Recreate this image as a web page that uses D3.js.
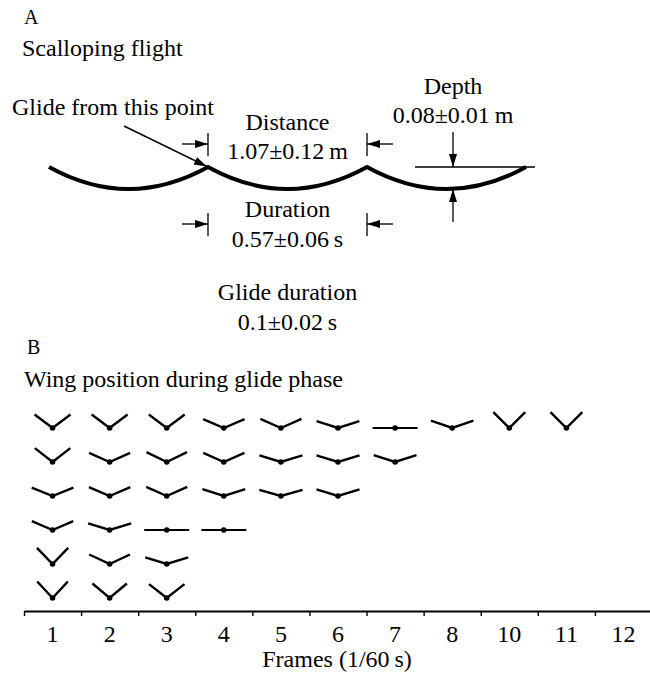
<!DOCTYPE html>
<html><head><meta charset="utf-8">
<script src="https://cdn.jsdelivr.net/npm/d3@7"></script>
<style>
body{margin:0;background:#fff}
text{font-family:"Liberation Serif","Times New Roman",serif;fill:#000}
</style>
</head><body>
<svg id="c" width="650" height="678"></svg>
<script>
// ---------- data ----------
const frameLabels = ["1","2","3","4","5","6","7","8","10","11","12"];
// wing elevation angle (degrees above horizontal), rows top→bottom, per frame
const wingAngles = [
  [37, 38, 22, 23, 46, 47],
  [37, 24, 23, 17, 25, 40],
  [37, 26, 24, 0, 17, 38],
  [23, 24, 18, 0],
  [24, 17, 16],
  [18, 17, 17],
  [0, 18],
  [19],
  [45],
  [45],
  []
];
const scallopDistance = 1.07, scallopDistanceSD = 0.12;   // m
const scallopDepth = 0.08, scallopDepthSD = 0.01;         // m
const scallopDuration = 0.57, scallopDurationSD = 0.06;   // s
const glideDuration = 0.1, glideDurationSD = 0.02;        // s
const scallopCount = 3;

// ---------- setup ----------
const svg = d3.select("#c");
const FS = 24;
const defs = svg.append("defs");
defs.append("marker").attr("id","ah").attr("markerUnits","userSpaceOnUse")
  .attr("markerWidth",14).attr("markerHeight",10).attr("refX",13).attr("refY",4)
  .attr("orient","auto")
  .append("path").attr("d","M0,0 L13,4 L0,8 Z").attr("fill","#000");

function label(x, y, str, anchor, size){
  svg.append("text").attr("x",x).attr("y",y).attr("text-anchor",anchor||"start")
    .attr("font-size",size||FS).text(str);
}
function arrow(x1,y1,x2,y2,w){
  svg.append("line").attr("x1",x1).attr("y1",y1).attr("x2",x2).attr("y2",y2)
    .attr("stroke","#000").attr("stroke-width",w||1.3).attr("marker-end","url(#ah)");
}
function seg(x1,y1,x2,y2,w){
  svg.append("line").attr("x1",x1).attr("y1",y1).attr("x2",x2).attr("y2",y2)
    .attr("stroke","#000").attr("stroke-width",w||1.3);
}

// ---------- panel A ----------
label(24, 24, "A", "start", 20);
label(22, 56, "Scalloping flight");

const xM = d3.scaleLinear().domain([0, scallopCount*scallopDistance]).range([49, 526]);
const yM = d3.scaleLinear().domain([0, scallopDepth]).range([167, 189]);

const scallopPath = d3.path();
d3.range(scallopCount).forEach(i => {
  const s = i*scallopDistance, e = (i+1)*scallopDistance;
  if (i === 0) scallopPath.moveTo(xM(s), yM(0));
  scallopPath.quadraticCurveTo(xM((s+e)/2), yM(2*scallopDepth), xM(e), yM(0));
});
svg.append("path").attr("d", scallopPath.toString()).attr("fill","none")
  .attr("stroke","#000").attr("stroke-width",4).attr("stroke-linejoin","miter");

const c1 = xM(scallopDistance), c2 = xM(2*scallopDistance);

// glide point
label(12, 115, "Glide from this point");
arrow(124, 126, c1-1, yM(0)-0.5, 1.4);

// distance
label((c1+c2)/2, 130, "Distance", "middle");
label((c1+c2)/2, 159, `${scallopDistance.toFixed(2)}±${scallopDistanceSD.toFixed(2)}\u2009m`, "middle");
seg(c1, 133, c1, 156);
seg(c2, 133, c2, 156);
arrow(c1-26, 144, c1, 144);
arrow(c2+26, 144, c2, 144);

// duration
label((c1+c2)/2, 217, "Duration", "middle");
label((c1+c2)/2, 247, `${scallopDuration.toFixed(2)}±${scallopDurationSD.toFixed(2)}\u2009s`, "middle");
seg(c1, 213, c1, 236);
seg(c2, 213, c2, 236);
arrow(c1-26, 224, c1, 224);
arrow(c2+26, 224, c2, 224);

// depth
const dx = 453;
label(dx, 94, "Depth", "middle");
label(dx, 123, `${scallopDepth.toFixed(2)}±${scallopDepthSD.toFixed(2)}\u2009m`, "middle");
seg(415, yM(0), 535, yM(0), 1.3);
arrow(dx, 132, dx, yM(0));
arrow(dx, 222, dx, yM(scallopDepth));

// glide duration
label((c1+c2)/2, 300, "Glide duration", "middle");
label((c1+c2)/2, 330, `${glideDuration}±${glideDurationSD.toFixed(2)}\u2009s`, "middle");

// ---------- panel B ----------
label(27, 354, "B", "start", 20);
label(24, 387, "Wing position during glide phase");

const axisY = 611;
const xB = d3.scaleBand().domain(frameLabels).range([24, 652]).padding(0);
const xEdge = d3.scaleLinear().domain([0, frameLabels.length]).range([24, 652]);
const yRow = d3.scalePoint().domain(d3.range(6)).range([428, 598]);

// tick marks at frame boundaries
const tickAxis = svg.append("g").attr("transform",`translate(0,${axisY})`)
  .call(d3.axisBottom(xEdge).tickValues(d3.range(frameLabels.length)).tickSize(5).tickSizeOuter(0).tickFormat(""));
tickAxis.select(".domain").attr("stroke-width",1.8);
tickAxis.selectAll(".tick line").attr("stroke-width",1.4);

// frame labels centred in each band
const labAxis = svg.append("g").attr("transform",`translate(0,${axisY})`)
  .call(d3.axisBottom(xB).tickSize(0).tickPadding(14));
labAxis.select(".domain").remove();
labAxis.selectAll("text").attr("font-size",FS).attr("font-family","Liberation Serif");

label(337, 667, "Frames (1/60\u2009s)", "middle");

// wing glyphs
const glyphs = [];
wingAngles.forEach((col, i) => col.forEach((a, j) => glyphs.push({frame: frameLabels[i], row: j, angle: a})));
const L = 22.5;
const line = d3.line();
const g = svg.append("g");
g.selectAll("path.w").data(glyphs).join("path").attr("class","w")
  .attr("d", d => {
    const cx = xB(d.frame) + xB.bandwidth()/2, cy = yRow(d.row), r = d.angle*Math.PI/180;
    return line([[cx - L*Math.cos(r), cy - L*Math.sin(r)], [cx, cy], [cx + L*Math.cos(r), cy - L*Math.sin(r)]]);
  })
  .attr("fill","none").attr("stroke","#000").attr("stroke-width",d => d.angle === 0 ? 1.8 : 2.4)
  .attr("stroke-linejoin","miter");
g.selectAll("circle").data(glyphs).join("circle")
  .attr("cx", d => xB(d.frame) + xB.bandwidth()/2).attr("cy", d => yRow(d.row)).attr("r", 2.8).attr("fill","#000");
</script>
</body></html>
